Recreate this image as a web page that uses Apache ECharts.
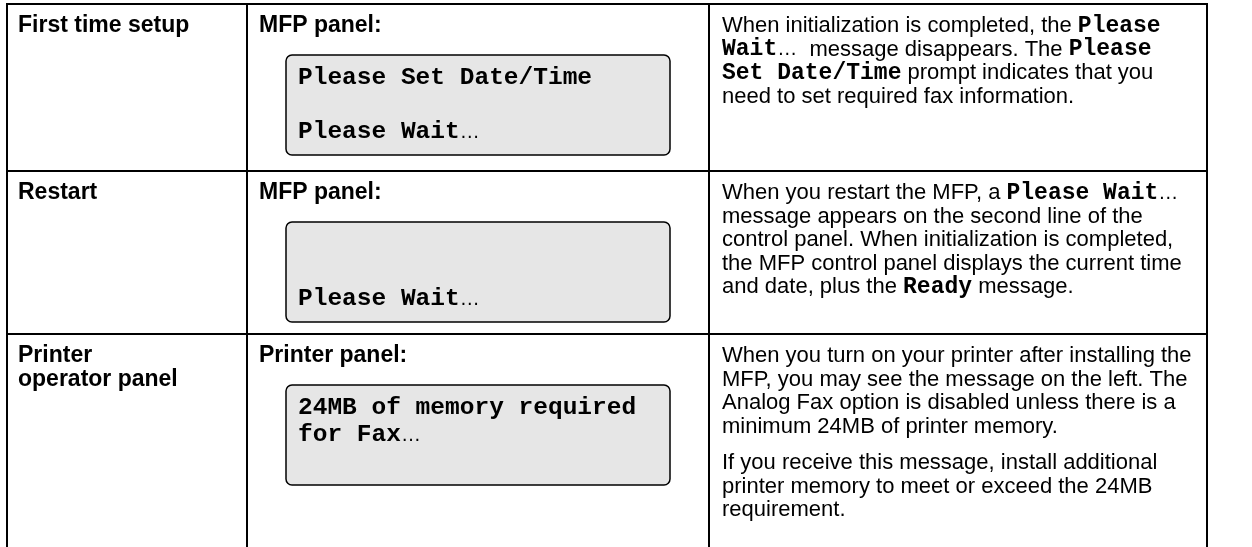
<!DOCTYPE html>
<html><head><meta charset="utf-8">
<script src="https://cdn.jsdelivr.net/npm/echarts@6/dist/echarts.min.js"></script>
<style>html,body{margin:0;padding:0;background:#fff}#c{width:1252px;height:547px}</style>
</head><body><div id="c"></div>
<script>
// ---- data ----
const categories = ['First time setup', 'Restart', 'Printer\noperator panel'];
const panelLabels = ['MFP panel:', 'MFP panel:', 'Printer panel:'];
const panelLines = [
  ['Please Set Date/Time', '', 'Please Wait…'],
  ['', '', 'Please Wait…'],
  ['24MB of memory required', 'for Fax…', '']
];
const descriptions = [
  [['When initialization is completed, the [Please]', '[Wait]…  message disappears. The [Please]', '[Set Date/Time] prompt indicates that you', 'need to set required fax information.']],
  [['When you restart the MFP, a [Please Wait]…', 'message appears on the second line of the', 'control panel. When initialization is completed,', 'the MFP control panel displays the current time', 'and date, plus the [Ready] message.']],
  [['When you turn on your printer after installing the', 'MFP, you may see the message on the left. The', 'Analog Fax option is disabled unless there is a', 'minimum 24MB of printer memory.'],
   ['If you receive this message, install additional', 'printer memory to meet or exceed the 24MB', 'requirement.']]
];

// ---- layout ----
const W = 1252, H = 547;
const colX = [7, 247, 709, 1207];
const rowTop = [4, 171, 334];
const SANS = '"Liberation Sans", Arial, Helvetica, sans-serif';
const MONO = '"Liberation Mono", "Courier New", monospace';
const HFS = 23, FS = 22, LH = 23.5;
const rich = {
  m: { fontFamily: MONO, fontWeight: 'bold', fontSize: 23, fill: '#000' },
  e: { fontFamily: SANS, fontSize: 20, fill: '#000' },
  b: { fontFamily: MONO, fontWeight: 'bold', fontSize: 24.5, fill: '#000' }
};
function toRich(s) {
  let out = '';
  s.split(/(\[[^\]]*\]|…)/).forEach(function (t) {
    if (!t) return;
    if (t[0] === '[') out += '{m|' + t.slice(1, -1) + '}';
    else if (t === '…') out += '{e|…}';
    else out += t;
  });
  return out;
}
function boxRich(s) {
  let out = '';
  s.split(/(…)/).forEach(function (t) {
    if (!t) return;
    if (t === '…') out += '{e|…}';
    else out += '{b|' + t + '}';
  });
  return out;
}

const g = [];
const lw = 2;
rowTop.forEach(function (y) {
  g.push({ type: 'line', shape: { x1: colX[0] - 1, y1: y, x2: colX[3] + 1, y2: y }, style: { stroke: '#000', lineWidth: lw } });
});
colX.forEach(function (x) {
  g.push({ type: 'line', shape: { x1: x, y1: rowTop[0], x2: x, y2: H + 5 }, style: { stroke: '#000', lineWidth: lw } });
});

categories.forEach(function (c, i) {
  const y0 = rowTop[i];
  c.split('\n').forEach(function (ln, k) {
    g.push({ type: 'text', style: { text: ln, x: 18, y: y0 + 22 + k * LH, font: 'bold ' + HFS + 'px ' + SANS, fill: '#000', verticalAlign: 'middle' } });
  });
  g.push({ type: 'text', style: { text: panelLabels[i], x: 259, y: y0 + 22, font: 'bold ' + HFS + 'px ' + SANS, fill: '#000', verticalAlign: 'middle' } });
  const by = y0 + 51;
  g.push({ type: 'rect', shape: { x: 286, y: by, width: 384, height: 100, r: 6 }, style: { fill: '#e6e6e6', stroke: '#000', lineWidth: 1.5 } });
  panelLines[i].forEach(function (ln, k) {
    if (!ln) return;
    g.push({ type: 'text', style: { text: boxRich(ln), rich: rich, x: 298, y: by + 23 + k * 27, verticalAlign: 'middle', font: FS + 'px ' + SANS, fill: '#000' } });
  });
  let y = y0 + 22;
  descriptions[i].forEach(function (para, p) {
    if (p > 0) y += 13;
    para.forEach(function (ln) {
      g.push({ type: 'text', style: { text: toRich(ln), rich: rich, x: 722, y: y, verticalAlign: 'middle', font: FS + 'px ' + SANS, fill: '#000' } });
      y += LH;
    });
  });
});

const chart = echarts.init(document.getElementById('c'), null, { renderer: 'canvas' });
chart.setOption({ backgroundColor: '#fff', animation: false, graphic: { elements: g } });
</script></body></html>
